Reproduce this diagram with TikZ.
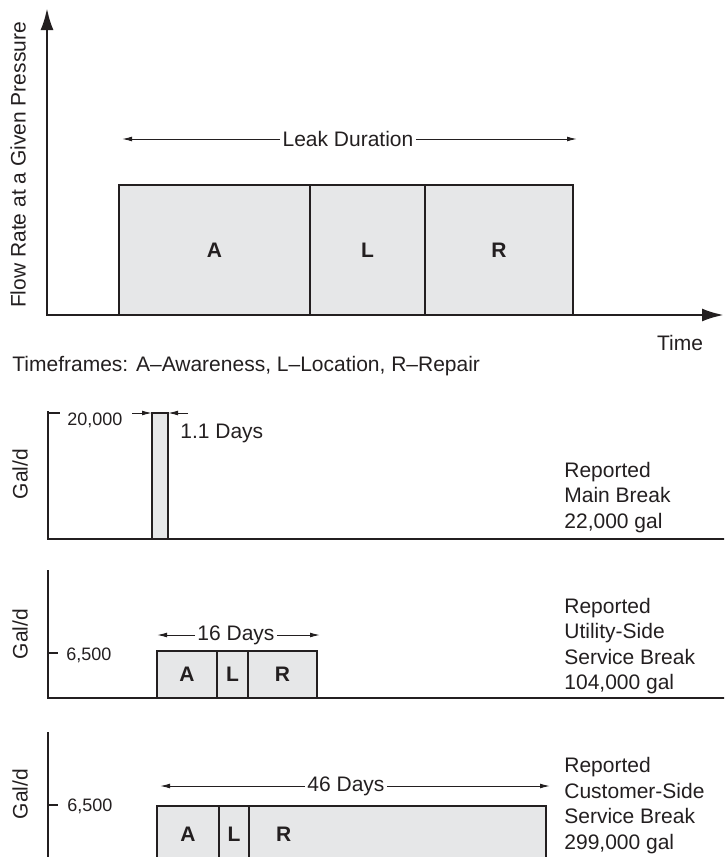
\documentclass[tikz,border=0pt]{standalone}
\usepackage{fontspec}
\setmainfont{Liberation Sans}
\usetikzlibrary{arrows.meta}
\definecolor{segfill}{HTML}{E6E7E8}
\definecolor{ink}{HTML}{231F20}

\begin{document}
\begin{tikzpicture}[x=0.5pt,y=-0.5pt,
  axis/.style={draw=ink,line width=1.4pt},
  seg/.style={draw=ink,fill=segfill,line width=1.2pt,inner sep=0pt,outer sep=0pt,anchor=south west,
    text=ink,font=\bfseries\fontsize{10.5}{12}\selectfont},
  dim/.style={draw=ink,line width=0.5pt,-{Latex[length=5pt,width=2.4pt]}},
  tick/.style={draw=ink,line width=0.8pt},
  lbl/.style={font=\fontsize{10.5}{14}\selectfont,text=ink,inner sep=0pt},
  dimlbl/.style={lbl,inner xsep=1pt},
  val/.style={font=\fontsize{9}{11}\selectfont,text=ink,inner sep=0pt,anchor=west},
  note/.style={lbl,font=\fontsize{10.5}{12.75}\selectfont,align=left,anchor=west},
]
\clip (0,0) rectangle (724,857);

% ---------- general timeline ----------
\coordinate (o0) at (47,315);
\coordinate (ytop) at (47,8);
\coordinate (xend) at (724,315);
\draw[axis,{Latex[length=11pt,width=6.5pt]}-{Latex[length=11pt,width=6.5pt]}] (ytop) -- (o0) -- (xend);

\node[seg,minimum width=95.5pt,minimum height=65pt] (A0) at (119,315) {A};
\node[seg,minimum width=57.5pt,minimum height=65pt] (L0) at (A0.south east) {L};
\node[seg,minimum width=74pt,minimum height=65pt] (R0) at (L0.south east) {R};

\node[dimlbl] (leak) at (348,139) {Leak Duration};
\coordinate (leakl) at (122,139);
\coordinate (leakr) at (577,139);
\draw[dim] (leak.west) -- (leakl);
\draw[dim] (leak.east) -- (leakr);

\node[lbl,rotate=90] (ylab) at (18,165) {Flow Rate at a Given Pressure};
\node[lbl] (time) at (680,343) {Time};
\node[lbl,anchor=west] (key) at (12,366) {Timeframes: A\textendash Awareness, L\textendash Location, R\textendash Repair};

% ---------- reported main break ----------
\coordinate (top1) at (48,411);
\coordinate (o1) at (48,539);
\coordinate (end1) at (730,539);
\draw[axis] (top1) -- (o1) -- (end1);
\coordinate (t1) at (48,413);
\coordinate (t1e) at (60,413);
\draw[tick] (t1) -- (t1e);
\node[val] (v1) at (67,420) {20,000};
\node[lbl,rotate=90] (g1) at (20,474) {Gal/d};

\node[seg,minimum width=8pt,minimum height=63pt] (bar) at (152,539) {};
\coordinate (b1l) at (132,413);
\coordinate (b1r) at (188,413);
\draw[dim] (b1l) -- (bar.north west);
\draw[dim] (b1r) -- (bar.north east);
\node[lbl,anchor=west] (d1) at (180,433) {1.1 Days};

\node[note] (n1) at (564,497.5) {Reported\\Main Break\\22,000 gal};

% ---------- reported utility-side service break ----------
\coordinate (top2) at (48,570);
\coordinate (o2) at (48,698);
\coordinate (end2) at (730,698);
\draw[axis] (top2) -- (o2) -- (end2);
\coordinate (t2) at (48,653);
\coordinate (t2e) at (58,653);
\draw[tick] (t2) -- (t2e);
\node[val] (v2) at (66,655) {6,500};
\node[lbl,rotate=90] (g2) at (20,634) {Gal/d};

\node[seg,minimum width=30pt,minimum height=23.5pt] (A2) at (157,698) {A};
\node[seg,minimum width=15.5pt,minimum height=23.5pt] (L2) at (A2.south east) {L};
\node[seg,minimum width=34.5pt,minimum height=23.5pt] (R2) at (L2.south east) {R};

\node[dimlbl] (d2) at (236,635) {16 Days};
\coordinate (d2l) at (157,635);
\coordinate (d2r) at (320,635);
\draw[dim] (d2.west) -- (d2l);
\draw[dim] (d2.east) -- (d2r);

\node[note] (n2) at (564,646) {Reported\\Utility-Side\\Service Break\\104,000 gal};

% ---------- reported customer-side service break ----------
\coordinate (top3) at (48,732);
\coordinate (o3) at (48,880);
\draw[axis] (top3) -- (o3);
\coordinate (t3) at (48,805);
\coordinate (t3e) at (58,805);
\draw[tick] (t3) -- (t3e);
\node[val] (v3) at (67,806) {6,500};
\node[lbl,rotate=90] (g3) at (20,794) {Gal/d};

\node[seg,minimum width=31pt,minimum height=28pt] (A3) at (157,862) {A};
\node[seg,minimum width=15pt,minimum height=28pt] (L3) at (A3.south east) {L};
\node[seg,minimum width=148.5pt,minimum height=28pt,text width=148.5pt,align=left] (R3) at (L3.south east) {\hspace*{13.5pt}R};

\node[dimlbl] (d3) at (346,786) {46 Days};
\coordinate (d3l) at (160,786);
\coordinate (d3r) at (550,786);
\draw[dim] (d3.west) -- (d3l);
\draw[dim] (d3.east) -- (d3r);

\node[note] (n3) at (564,805.5) {Reported\\Customer-Side\\Service Break\\299,000 gal};
\end{tikzpicture}
\end{document}
